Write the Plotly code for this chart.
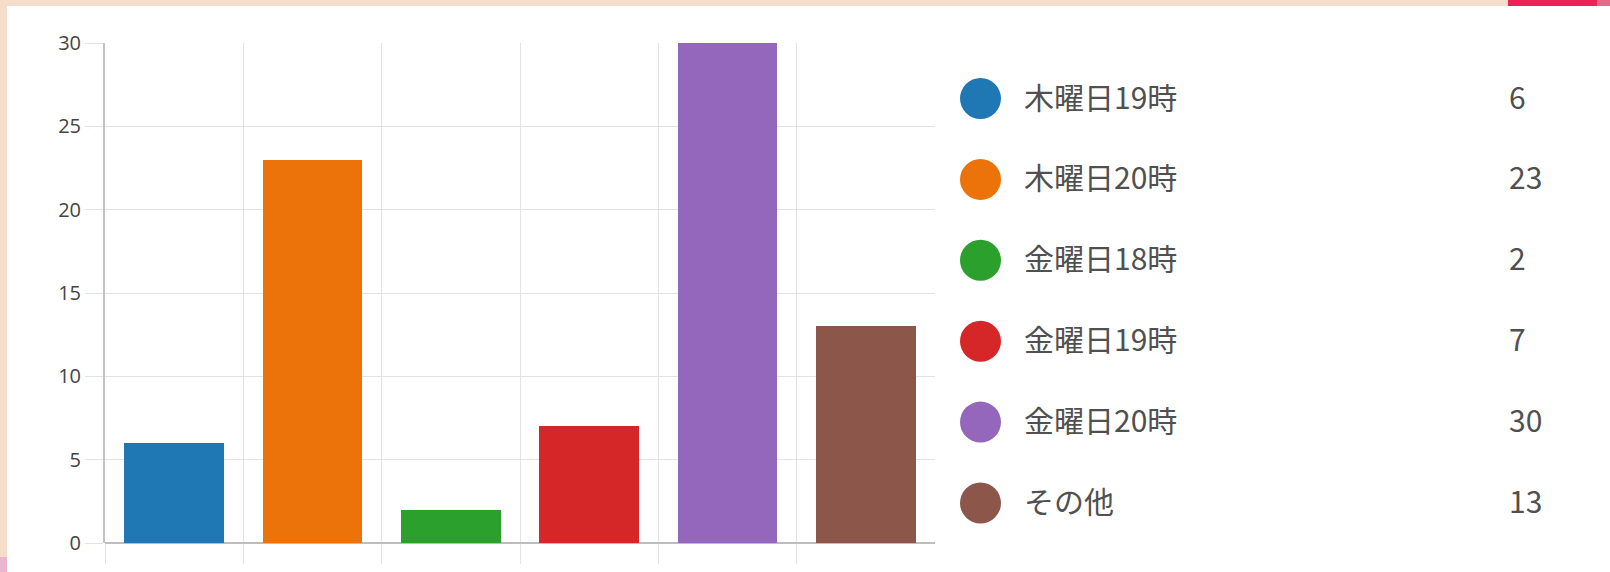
import plotly.graph_objects as go

categories = ["木曜日19時", "木曜日20時", "金曜日18時", "金曜日19時", "金曜日20時", "その他"]
values = [6, 23, 2, 7, 30, 13]
colors = ["#1f77b4", "#eb730a", "#2ca02c", "#d62728", "#9467bd", "#8c564b"]
y_ticks = [0, 5, 10, 15, 20, 25, 30]

W, H = 1610, 572
L, T, B = 105, 43, 29
PLOT_W = W - L
BAR_FRAC = 830 / PLOT_W

idx = list(range(len(categories)))

fig = go.Figure()
fig.add_trace(go.Bar(
    x=idx, y=values, marker=dict(color=colors, line=dict(width=0)),
    width=0.72, xaxis="x", yaxis="y", showlegend=False, hoverinfo="skip"))

# legend markers on a helper axis
fig.add_trace(go.Scatter(
    x=[45.5] * len(idx), y=idx, mode="markers",
    marker=dict(size=41, color=colors, line=dict(width=0)),
    xaxis="x2", yaxis="y2", showlegend=False, hoverinfo="skip"))

legend_font = dict(family="Noto Sans CJK JP", size=30, color="#505050")
annotations = []
for i, (c, v) in enumerate(zip(categories, values)):
    annotations.append(dict(x=87, y=i, xref="x2", yref="y2", text=c, showarrow=False,
                            xanchor="left", yanchor="middle", yshift=3, font=legend_font))
    annotations.append(dict(x=572, y=i, xref="x2", yref="y2", text=str(v), showarrow=False,
                            xanchor="left", yanchor="middle", yshift=3, font=legend_font))

row0, step = 98.5, 80.9
y2_top = (T - row0) / step
y2_bot = (T + 500 - row0) / step

def px_x(p):
    return (p - L) / PLOT_W

def px_y(p):
    return (T + 500 - p) / 500

shapes = [
    dict(type="rect", xref="paper", yref="paper", x0=px_x(7), x1=px_x(W), y0=px_y(H), y1=px_y(6),
         fillcolor="white", line=dict(width=0), layer="below"),
    dict(type="rect", xref="paper", yref="paper", x0=px_x(1508), x1=px_x(1597), y0=px_y(6), y1=px_y(0),
         fillcolor="#ea2456", line=dict(width=0), layer="below"),
    dict(type="rect", xref="paper", yref="paper", x0=px_x(1597), x1=px_x(W), y0=px_y(6), y1=px_y(0),
         fillcolor="#e66a8c", line=dict(width=0), layer="below"),
    dict(type="rect", xref="paper", yref="paper", x0=px_x(0), x1=px_x(7), y0=px_y(H), y1=px_y(557),
         fillcolor="#e9b6d2", line=dict(width=0), layer="below"),
]

fig.update_layout(
    width=W, height=H,
    margin=dict(l=L, r=0, t=T, b=B, pad=0),
    paper_bgcolor="#f6ddcb", plot_bgcolor="rgba(0,0,0,0)",
    shapes=shapes, annotations=annotations,
    bargap=0,
    xaxis=dict(domain=[0, BAR_FRAC], range=[-0.5, 5.5], tickmode="array",
               tickvals=[-0.5, 0.5, 1.5, 2.5, 3.5, 4.5], showticklabels=False,
               showgrid=True, gridcolor="#e3e3e3", gridwidth=1.3,
               ticks="outside", ticklen=20, tickcolor="#e3e3e3", tickwidth=1.3,
               zeroline=False, showline=False, fixedrange=True),
    yaxis=dict(range=[0, 30], tickmode="array", tickvals=y_ticks,
               showgrid=True, gridcolor="#e3e3e3", gridwidth=1.3,
               ticks="outside", ticklen=18, tickcolor="#e3e3e3", tickwidth=1.3,
               tickfont=dict(family="Open Sans", size=20, color="#444"),
               zeroline=True, zerolinecolor="#bdbdbd", zerolinewidth=1.5,
               showline=True, linecolor="#c4c4c4", linewidth=2, fixedrange=True),
    xaxis2=dict(domain=[BAR_FRAC, 1], range=[0, W - L - 830], visible=False, anchor="y2"),
    yaxis2=dict(domain=[0, 1], range=[y2_bot, y2_top], visible=False, anchor="x2"),
    font=dict(family="Noto Sans CJK JP"),
)

fig.write_html("out.html", config={"displayModeBar": False},
               post_script="document.body.style.margin='0';document.body.style.overflow='hidden';")
